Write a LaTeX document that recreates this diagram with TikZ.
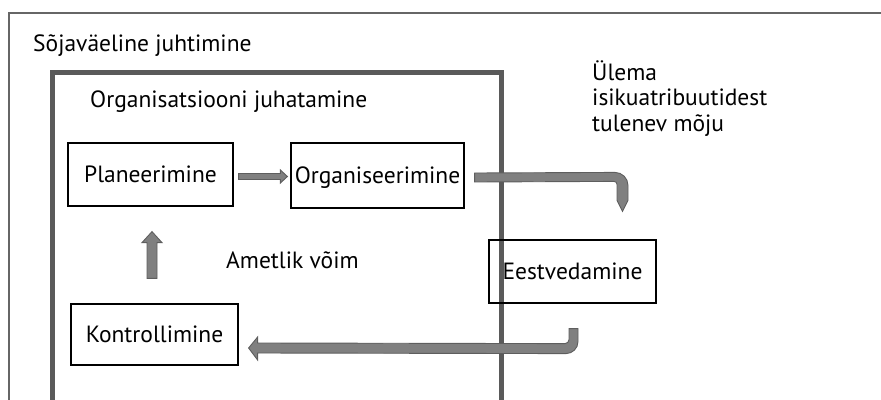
\documentclass[tikz,border=0pt]{standalone}
\usepackage{fontspec}
\setmainfont{PT Sans}
\usetikzlibrary{calc}
\definecolor{framegray}{HTML}{666666}
\definecolor{thickgray}{HTML}{5A5A5A}
\definecolor{arrowfill}{HTML}{808080}
\definecolor{arrowline}{HTML}{5E5E5E}
\begin{document}
\begin{tikzpicture}[x=1pt,y=-1pt,
  txt/.style={font=\fontsize{23.5}{27}\selectfont, inner sep=0pt},
  procbox/.style={draw=black, line width=1.2pt, inner sep=0pt, font=\fontsize{23.5}{27}\selectfont,
     text height=16pt, text depth=0pt, align=center},
  barrow/.style={fill=arrowfill, draw=arrowline, line width=0.9pt, line join=miter}]
\useasboundingbox (0,0) rectangle (881,399);
\clip (0,0) rectangle (881,399);
% outer frame
\draw[framegray, line width=2pt] (9,420) -- (9,13) -- (900,13);
% inner thick frame
\draw[thickgray, line width=4.8pt] (52.5,420) -- (52.5,72.5) -- (501.5,72.5) -- (501.5,420);
% labels
\node[txt, anchor=base west] (mil) at (33,51) {Sõjaväeline juhtimine};
\node[txt, anchor=base west] (org) at (90,107) {Organisatsiooni juhatamine};
\node[txt, anchor=base west] (ulema) at (592,80) {Ülema};
\node[txt, anchor=base west] (isik) at (592,105.5) {isikuatribuutidest};
\node[txt, anchor=base west] (tul) at (592,131) {tulenev mõju};
\node[txt, anchor=base west] (amet) at (226,268) {Ametlik võim};
% process boxes
\node[procbox, minimum width=165pt, minimum height=63pt] (plan) at (150.5,174.5) {Planeerimine};
\node[procbox, minimum width=173pt, minimum height=65pt] (orgn) at (377.5,175.5) {Organiseerimine};
\node[procbox, minimum width=167pt, minimum height=63pt] (eest) at (572.5,271.5) {Eestvedamine};
\node[procbox, minimum width=167pt, minimum height=61pt] (kont) at (154.5,334.5) {Kontrollimine};
% Planeerimine -> Organiseerimine
\coordinate (p1s) at ($(plan.east)+(5,2)$);
\coordinate (p1e) at ($(orgn.west)+(-3,1)$);
\draw[barrow] ($(p1s)+(0,-3)$) -- ($(p1e)+(-7,-3)$) -- ($(p1e)+(-7,-6.5)$) -- (p1e)
  -- ($(p1e)+(-7,6.5)$) -- ($(p1e)+(-7,3)$) -- ($(p1s)+(0,3)$) -- cycle;
% Kontrollimine -> Planeerimine
\coordinate (u1) at ($(kont.north)+(-2.5,-25)$);
\coordinate (u2) at ($(plan.south)+(1.5,25)$);
\draw[barrow] ($(u1)+(-5,0)$) -- ($(u2)+(-5,11)$) -- ($(u2)+(-10,11)$) -- (u2)
  -- ($(u2)+(10,11)$) -- ($(u2)+(5,11)$) -- ($(u1)+(5,0)$) -- cycle;
% Organiseerimine -> Eestvedamine
\coordinate (s) at ($(orgn.east)+(10,2)$);
\coordinate (t) at ($(eest.north)+(50,-28)$);
\draw[barrow] ($(s)+(0,-4.5)$) -- ($(t)+(-7.5,-39)$)
  .. controls ($(t)+(-0.3,-39)$) and ($(t)+(5.5,-33.2)$) .. ($(t)+(5.5,-26)$)
  -- ($(t)+(5.5,-11)$) -- (t) -- ($(t)+(-5.5,-11)$) -- ($(t)+(-5.5,-27)$)
  .. controls ($(t)+(-5.5,-28.7)$) and ($(t)+(-6.8,-30)$) .. ($(t)+(-8.5,-30)$)
  -- ($(s)+(0,4.5)$) -- cycle;
% Eestvedamine -> Kontrollimine
\coordinate (s2) at ($(eest.south)+(1,25)$);
\coordinate (t2) at ($(kont.east)+(10,13.5)$);
\draw[barrow] ($(s2)+(-4.5,0)$) -- ($(s2)+(4.5,0)$) -- ($(s2)+(4.5,13)$)
  .. controls ($(s2)+(4.5,19.6)$) and ($(s2)+(-0.9,25)$) .. ($(s2)+(-7.5,25)$)
  -- ($(t2)+(9,5)$) -- ($(t2)+(9,12)$) -- (t2) -- ($(t2)+(9,-11)$) -- ($(t2)+(9,-5)$)
  -- ($(s2)+(-8.5,15)$)
  .. controls ($(s2)+(-6.3,15)$) and ($(s2)+(-4.5,13.2)$) .. ($(s2)+(-4.5,11)$)
  -- cycle;
\end{tikzpicture}
\end{document}
